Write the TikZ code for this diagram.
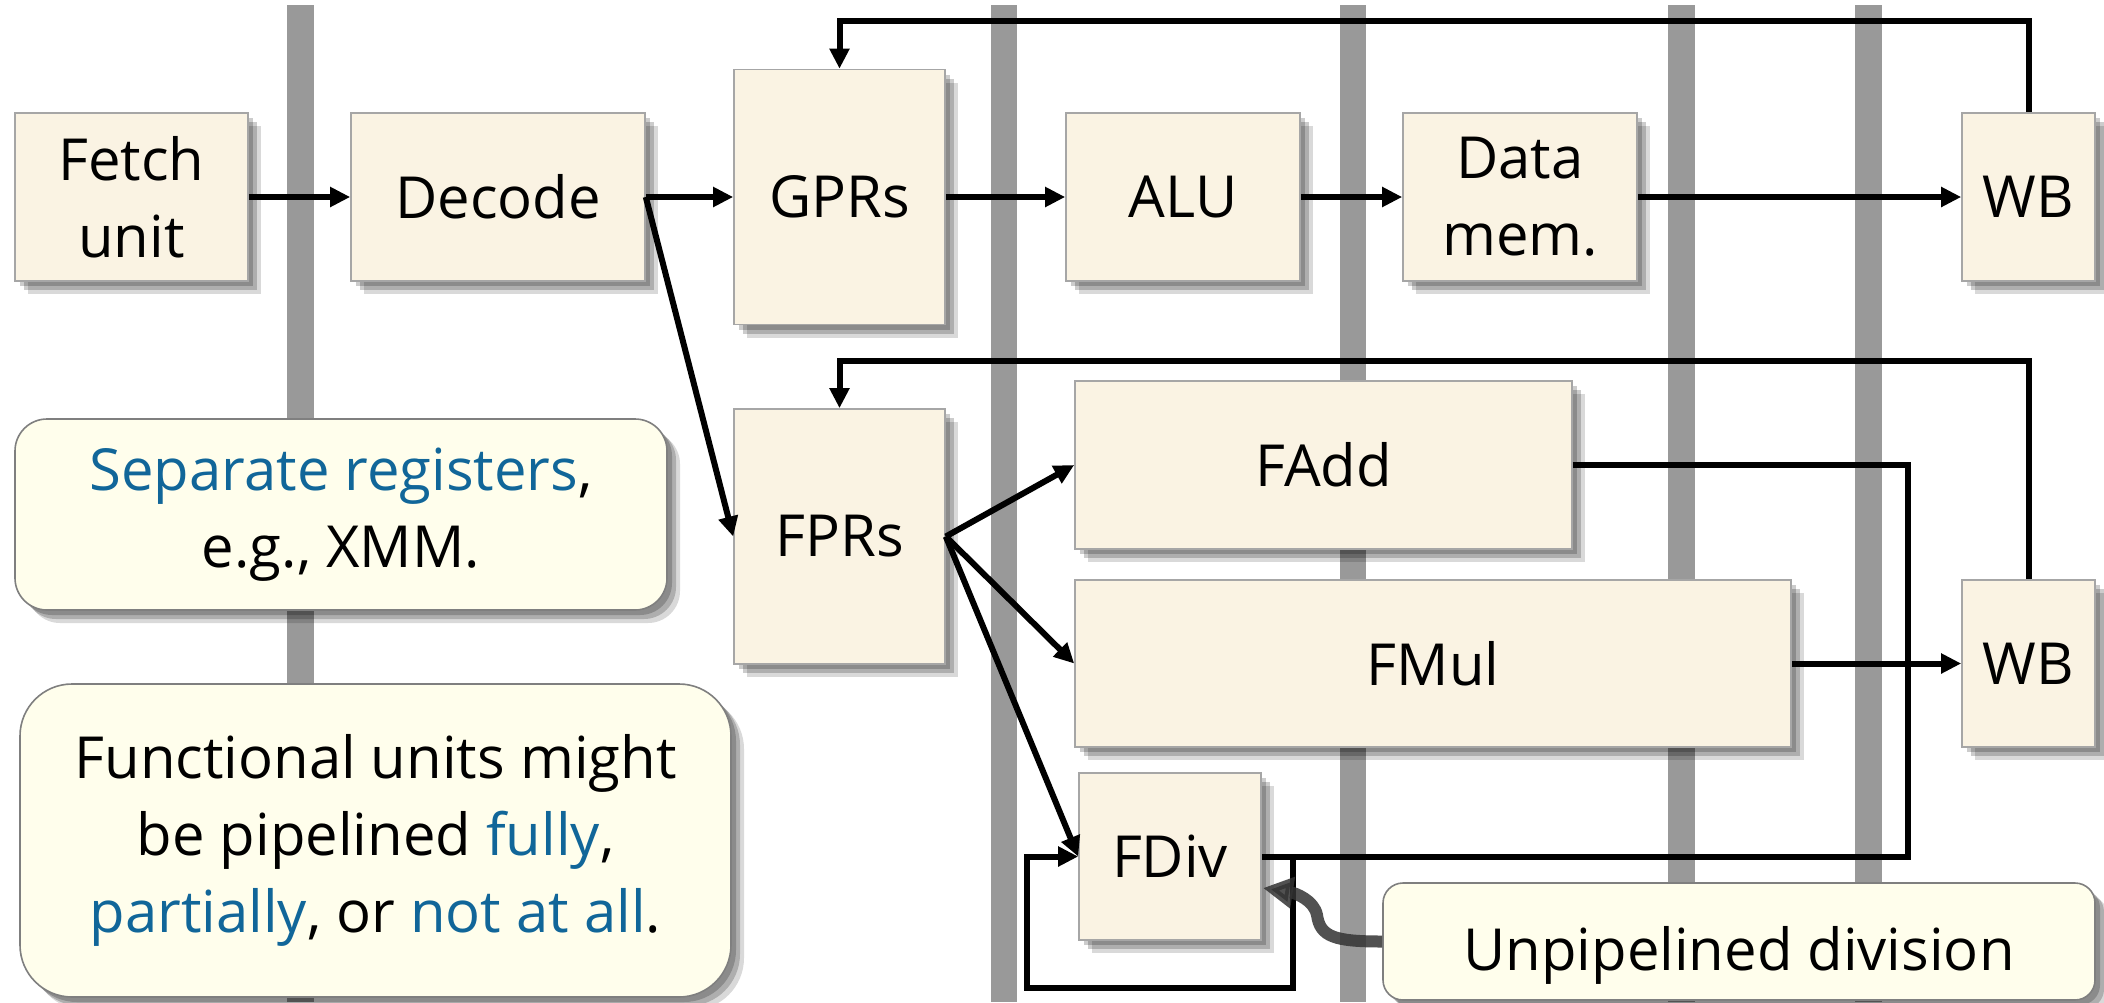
\documentclass[tikz,border=0pt]{standalone}
\usepackage{fontspec}
\setmainfont{Open Sans}
\usetikzlibrary{arrows.meta,shadows,calc}
\definecolor{boxfill}{RGB}{250,243,227}
\definecolor{boxdraw}{RGB}{166,166,166}
\definecolor{notefill}{RGB}{255,254,236}
\definecolor{notedraw}{RGB}{127,127,127}
\definecolor{barcol}{RGB}{153,153,153}
\definecolor{hl}{RGB}{17,102,153}
\definecolor{curvecol}{RGB}{51,51,51}
\tikzset{
  softshadow/.style={
    drop shadow={shadow xshift=2.5pt, shadow yshift=-2.5pt, opacity=0.2, fill=black},
    drop shadow={shadow xshift=4.5pt, shadow yshift=-4.5pt, opacity=0.2, fill=black},
    drop shadow={shadow xshift=6.5pt, shadow yshift=-6.5pt, opacity=0.15, fill=black}},
  txt/.style={inner sep=0pt, align=center, font=\fontsize{29}{38.5}\selectfont},
  unit/.style={txt, draw=boxdraw, line width=0.8pt, fill=boxfill, softshadow},
  note/.style={txt, draw=notedraw, line width=0.8pt, fill=notefill, softshadow},
  link/.style={line width=3pt},
  arr/.style={link, -{Triangle[length=10pt,width=9.5pt]}},
  bar/.style={fill=barcol},
}
\begin{document}
\begin{tikzpicture}[x=0.5pt, y=-0.5pt]
\useasboundingbox (0,0) rectangle (2104,1002);
% pipeline separators
\fill[bar] (287,5) rectangle (314,1002);
\fill[bar] (991,5) rectangle (1017,1002);
\fill[bar] (1340,5) rectangle (1366,1002);
\fill[bar] (1668,5) rectangle (1695,1002);
\fill[bar] (1855,5) rectangle (1882,1002);
% units
\node[unit, minimum width=116.5pt, minimum height=84pt] (fetch) at (131.5,197) {Fetch\\unit};
\node[unit, minimum width=147pt, minimum height=84pt] (decode) at (498,197) {Decode};
\node[unit, minimum width=105.5pt, minimum height=127.5pt] (gprs) at (839.5,197) {GPRs};
\node[unit, minimum width=117pt, minimum height=84pt] (alu) at (1183,197) {ALU};
\node[unit, minimum width=117pt, minimum height=84pt] (dmem) at (1520,197) {Data\\mem.};
\node[unit, minimum width=66.5pt, minimum height=84pt] (wbA) at (2028.5,197) {WB};
\node[unit, minimum width=105.5pt, minimum height=127.5pt] (fprs) at (839.5,536.5) {FPRs};
\node[unit, minimum width=248.5pt, minimum height=84pt] (fadd) at (1323.5,465) {FAdd};
\node[unit, minimum width=358pt, minimum height=83.5pt] (fmul) at (1433,663.5) {FMul};
\node[unit, minimum width=91pt, minimum height=83.5pt] (fdiv) at (1170,856.5) {FDiv};
\node[unit, minimum width=66.5pt, minimum height=83.5pt] (wbB) at (2028.5,663.5) {WB};
% notes
\node[note, rounded corners=16pt, minimum width=326pt, minimum height=95.5pt] (sepnote) at (341,514.5)
  {\textcolor{hl}{Separate registers},\\e.g., XMM.};
\node[note, rounded corners=26pt, minimum width=355.5pt, minimum height=156.5pt] (funcnote) at (375.5,840.5)
  {Functional units might\\be pipelined \textcolor{hl}{fully},\\\textcolor{hl}{partially}, or \textcolor{hl}{not at all}.};
\node[note, rounded corners=10pt, minimum width=356pt, minimum height=58.5pt, text height=30pt, text depth=1.5pt] (unpip) at (1739,941.5)
  {Unpipelined division};
% helper coordinates
\coordinate (topA) at (0,21);
\coordinate (topB) at (0,361);
\coordinate (rjoin) at (1908,856.5);
\coordinate (loopA) at (1293,856.5);
\coordinate (loopB) at (1027,988);
\coordinate (divtip) at (1263,888);
% connectors
\draw[arr] (fetch) -- (decode);
\draw[arr] (decode) -- (gprs);
\draw[arr] (gprs) -- (alu);
\draw[arr] (alu) -- (dmem);
\draw[arr] (dmem) -- (wbA);
\draw[arr] (decode.east) -- (fprs.west);
\draw[arr] (fprs.east) -- (fadd.west);
\draw[arr] (fprs.east) -- (fmul.west);
\draw[arr] (fprs.east) -- (fdiv.west);
\draw[arr] (fmul) -- (wbB);
\draw[arr] (wbA.north) -- (wbA.north |- topA) -| (gprs.north);
\draw[arr] (wbB.north) -- (wbB.north |- topB) -| (fprs.north);
\draw[link] (fadd.east) -| (rjoin) -- (fdiv.east);
\draw[arr] (loopA) |- (loopB) |- (fdiv.west);
\draw[curvecol, opacity=0.85, line width=6pt, -{Triangle[length=15pt,width=15pt]}]
  (unpip.west) .. controls (1335,941.5) and (1320,937) .. (1317,915)
  .. controls (1314,900) and (1295,893) .. (divtip);
\end{tikzpicture}
\end{document}
